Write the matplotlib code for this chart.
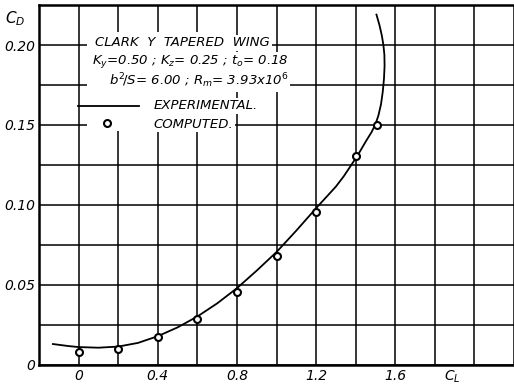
import matplotlib.pyplot as plt
import numpy as np

# Curva experimental (CL, CD)
cl_exp = [-0.13, -0.05, 0.0, 0.1, 0.2, 0.3, 0.4, 0.5, 0.6, 0.7, 0.8, 0.9, 1.0,
          1.1, 1.2, 1.3, 1.34, 1.41, 1.45, 1.48, 1.50, 1.515, 1.528, 1.537,
          1.543, 1.546, 1.545, 1.54, 1.532, 1.52, 1.505]
cd_exp = [0.0131, 0.0118, 0.0112, 0.0108, 0.0115, 0.0138, 0.018, 0.0235, 0.0303,
          0.0385, 0.048, 0.059, 0.0706, 0.084, 0.098, 0.1115, 0.118, 0.131, 0.1395,
          0.1455, 0.1505, 0.156, 0.163, 0.171, 0.179, 0.187, 0.194, 0.200, 0.206,
          0.2125, 0.219]

# Puntos calculados
cl_comp = [0, 0.2, 0.4, 0.6, 0.8, 1.0, 1.2, 1.4, 1.51]
cd_comp = [0.0083, 0.0102, 0.0177, 0.0285, 0.0454, 0.0683, 0.0956, 0.1306, 0.1498]

x_labels = {0: '0', 0.4: '0.4', 0.8: '0.8', 1.2: '1.2', 1.6: '1.6'}
y_labels = {0: '0', 0.05: '0.05', 0.10: '0.10', 0.15: '0.15', 0.20: '0.20'}

plt.rcParams['mathtext.fontset'] = 'dejavusans'

fig = plt.figure(figsize=(5.14, 3.85), dpi=100)
ax = fig.add_axes([0.076, 0.052, 0.924, 0.935])
ax.set_xlim(-0.2, 2.175)
ax.set_ylim(0, 0.225)

#Grilla
xt = np.round(np.arange(-0.2, 2.2, 0.2), 2)
yt = np.round(np.arange(0, 0.226, 0.025), 3)
ax.set_xticks(xt)
ax.set_yticks(yt)
ax.set_xticklabels([x_labels.get(v, '') for v in xt], fontstyle='italic', fontsize=10)
ax.set_yticklabels([y_labels.get(v, '') for v in yt], fontstyle='italic', fontsize=10)
ax.tick_params(length=0, pad=3)
ax.grid(True, color='black', linewidth=1.1)
ax.set_axisbelow(True)
ax.spines['right'].set_visible(False)
for s in ['left', 'bottom', 'top']:
    ax.spines[s].set_linewidth(1.8)

#Datos
ax.plot(cl_exp, cd_exp, color='black', linewidth=1.3, zorder=3)
ax.plot(cl_comp, cd_comp, 'o', mfc='white', mec='black', ms=5, mew=1.5, zorder=4)

#Leyenda (fondo blanco que tapa la grilla)
ax.add_patch(plt.Rectangle((0.04, 0.146), 0.74, 0.062, facecolor='white',
                           edgecolor='none', zorder=2.5))
box = dict(facecolor='white', edgecolor='none', pad=1.0)
kw = dict(fontstyle='italic', fontsize=9.5, va='center', ha='left', zorder=5, bbox=box)
ax.text(0.085, 0.2015, 'CLARK  Y  TAPERED  WING', **kw)
ax.text(0.065, 0.1895, r'$K_y$=0.50 ; $K_z$= 0.25 ; $t_o$= 0.18', **kw)
ax.text(0.155, 0.1775, r'$b^2\!/S$= 6.00 ; $R_m$= 3.93x10$^6$', **kw)
ax.plot([-0.005, 0.305], [0.162, 0.162], color='black', linewidth=1.3, zorder=6)
ax.text(0.38, 0.162, 'EXPERIMENTAL.', **kw)
ax.plot([0.145], [0.151], 'o', mfc='white', mec='black', ms=5, mew=1.5, zorder=6)
ax.text(0.38, 0.1505, 'COMPUTED.', **kw)

ax.text(-0.32, 0.2165, r'$C_D$', fontsize=11, ha='center', va='center')
ax.text(1.89, -0.0075, r'$C_L$', fontsize=10, ha='center', va='center')

plt.savefig('out.png', dpi=100)
